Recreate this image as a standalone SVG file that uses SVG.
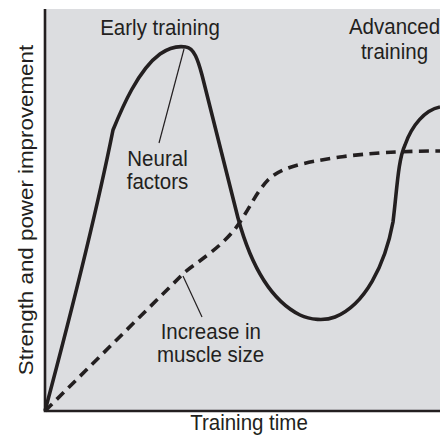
<svg xmlns="http://www.w3.org/2000/svg" width="440" height="436" viewBox="0 0 440 436">
<style>
.t{font-family:"Liberation Sans",Arial,Helvetica,sans-serif;font-size:20.5px;fill:#231f20;text-anchor:middle}
.curve{fill:none;stroke:#231f20;stroke-width:3.6;stroke-linejoin:round;stroke-linecap:butt}
.dash{stroke-dasharray:10 6.5}
.lead{fill:none;stroke:#231f20;stroke-width:1.2}
.axis{fill:none;stroke:#231f20;stroke-width:2.6}
</style>
<rect width="440" height="436" fill="#ffffff"/>
<rect id="plot-area" x="45" y="9" width="395" height="402" fill="#dcdde0"/>
<g id="curves">
<path id="neural-curve" class="curve" d="M45,411 Q92,235 113,130 C122,108 138,70 160,54 C170,47 180,46 186,47 C194,48 198,60 202,75 L238,218 C250,262 270,300 300,315 C310,320 325,321 335,317 C365,305 385,265 393,222 C397,190 398,160 405,145 C412,125 425,110 440,107"/>
<path id="muscle-curve" class="curve dash" d="M45,411 L185,272 C200,260 225,245 240,222 C250,207 258,190 268,180 C280,168 300,163 340,157 C370,153 400,151 440,151"/>
</g>
<g id="connectors">
<line class="lead" x1="184" y1="49" x2="159" y2="143"/>
<line class="lead" x1="183" y1="276" x2="202" y2="317"/>
</g>
<g id="axes">
<polyline class="axis" points="45,9 45,411 440,411"/>
</g>
<g id="labels">
<text class="t" transform="translate(160,35) scale(1,1.09)">Early training</text>
<g id="advanced-label">
<text class="t" transform="translate(394.5,33.5) scale(1,1.09)">Advanced</text>
<text class="t" transform="translate(394.5,58.5) scale(1,1.09)">training</text>
</g>
<g id="neural-label">
<text class="t" transform="translate(157.5,166) scale(1,1.09)">Neural</text>
<text class="t" transform="translate(157.5,188.5) scale(1,1.09)">factors</text>
</g>
<g id="muscle-label">
<text class="t" transform="translate(210.8,338.5) scale(1,1.09)">Increase in</text>
<text class="t" transform="translate(210.5,361.5) scale(1,1.09)">muscle size</text>
</g>
<text id="x-label" class="t" transform="translate(249,430) scale(1,1.05)">Training time</text>
<text id="y-label" class="t" transform="translate(33,210) rotate(-90) scale(1.09,1)">Strength and power improvement</text>
</g>
</svg>
